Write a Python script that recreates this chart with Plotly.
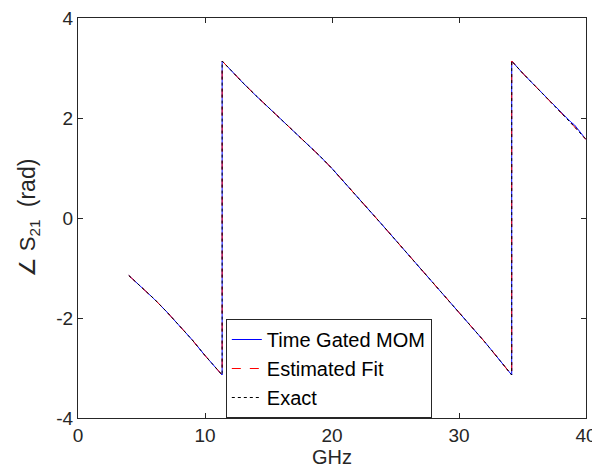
import plotly.graph_objects as go

# frequency (GHz) and wrapped phase of S21 (rad)
freq = [4, 5, 6, 7, 8, 9, 10, 11, 11.35, 11.35, 12, 13, 14, 15, 16, 17, 18, 19, 20,
        21, 22, 23, 24, 25, 26, 27, 28, 29, 30, 31, 32, 33, 34, 34.15, 34.15,
        35, 36, 37, 38, 39, 40]
phase_exact = [-1.15, -1.38, -1.62, -1.88, -2.15, -2.44, -2.75, -3.04, -3.14, 3.14,
               2.96, 2.70, 2.45, 2.21, 1.98, 1.74, 1.50, 1.25, 0.99,
               0.71, 0.43, 0.14, -0.15, -0.44, -0.73, -1.02, -1.31, -1.59, -1.88,
               -2.17, -2.47, -2.78, -3.09, -3.14, 3.14,
               2.90, 2.64, 2.38, 2.12, 1.85, 1.57]
# time gated MOM shows a little ripple at the top of the band
freq_mom = freq[:-3] + [38.4, 38.8, 39.1, 39.4, 39.7, 40]
phase_mom = phase_exact[:-3] + [2.03, 1.92, 1.86, 1.76, 1.68, 1.57]

x_ticks = [0, 10, 20, 30, 40]
y_ticks = [-4, -2, 0, 2, 4]
y_labels = ["-4", "-2", "0", "2", "4"]

fig = go.Figure()
fig.add_trace(go.Scatter(x=freq_mom, y=phase_mom, mode="lines", name="Time Gated MOM",
                         line=dict(color="#0000ff", width=1)))
fig.add_trace(go.Scatter(x=freq, y=phase_exact, mode="lines", name="Estimated Fit",
                         line=dict(color="#ff0000", width=1, dash="dash")))
fig.add_trace(go.Scatter(x=freq, y=phase_exact, mode="lines", name="Exact",
                         line=dict(color="#000000", width=1, dash="dot")))

axis_style = dict(showgrid=False, zeroline=False, showline=True, linecolor="#262626",
                  linewidth=1, mirror="ticks", ticks="inside", ticklen=5,
                  tickcolor="#262626", tickfont=dict(size=19, color="#262626"),
                  automargin=False, ticklabeloverflow="allow")

# the page adds an 8px body margin, so the figure is a bit smaller than the window
fig.update_layout(
    width=592, height=466,
    font=dict(family="Liberation Sans, Arial", size=19, color="#262626"),
    plot_bgcolor="white", paper_bgcolor="white",
    margin=dict(l=70, r=14, t=10, b=56),
    xaxis=dict(range=[0, 40], tickvals=x_ticks,
               title=dict(text="GHz", standoff=2, font=dict(size=20)), **axis_style),
    yaxis=dict(range=[-4, 4], tickvals=y_ticks, ticktext=y_labels,
               title=dict(text="∠ S<sub>21</sub>  <span style='font-size:23px'>(rad)</span>",
                          standoff=14, font=dict(size=22)),
               **axis_style),
    legend=dict(x=0.291, y=0.0, xanchor="left", yanchor="bottom",
                bgcolor="white", bordercolor="#262626", borderwidth=1,
                font=dict(size=20, color="#000000"), tracegroupgap=0),
    showlegend=True,
)

fig.write_html("out.html")
